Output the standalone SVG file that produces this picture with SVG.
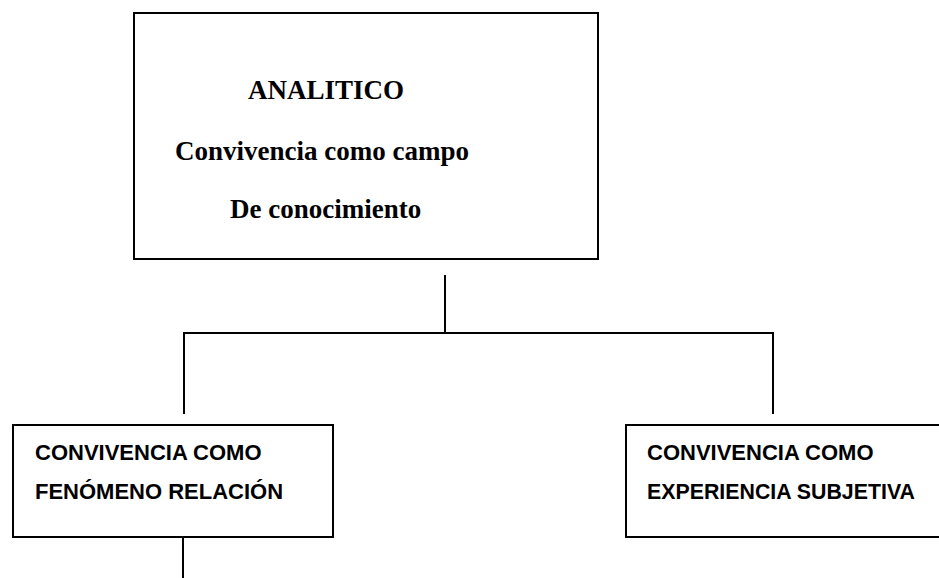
<svg xmlns="http://www.w3.org/2000/svg" width="939" height="578" viewBox="0 0 939 578">
<style>
.box{fill:#fff;stroke:#000;stroke-width:2}
.ln{stroke:#000;stroke-width:2;fill:none}
.t1{font-family:"Liberation Serif","Times New Roman",serif;font-weight:bold;font-size:27px;fill:#000}
.t2{font-family:"Liberation Sans",Arial,sans-serif;font-weight:bold;font-size:22px;fill:#000}
</style>
<rect width="939" height="578" fill="#fff"/>
<g id="connectors">
<line class="ln" x1="445" y1="275" x2="445" y2="333"/>
<polyline class="ln" points="184,414 184,333 773,333 773,414"/>
<line class="ln" x1="183" y1="537" x2="183" y2="578"/>
</g>
<g id="analitico">
<rect class="box" x="134" y="13" width="464" height="246"/>
<text class="t1" x="248" y="99">ANALITICO</text>
<text class="t1" x="175" y="160">Convivencia como campo</text>
<text class="t1" x="230" y="218">De conocimiento</text>
</g>
<g id="fenomeno">
<rect class="box" x="13" y="425" width="320" height="112"/>
<text class="t2" x="35" y="460">CONVIVENCIA COMO</text>
<text class="t2" x="35" y="499">FENÓMENO RELACIÓN</text>
</g>
<g id="experiencia">
<rect class="box" x="626" y="425" width="320" height="112"/>
<text class="t2" x="647" y="460">CONVIVENCIA COMO</text>
<text class="t2" x="647" y="499" textLength="268" lengthAdjust="spacingAndGlyphs">EXPERIENCIA SUBJETIVA</text>
</g>
</svg>
